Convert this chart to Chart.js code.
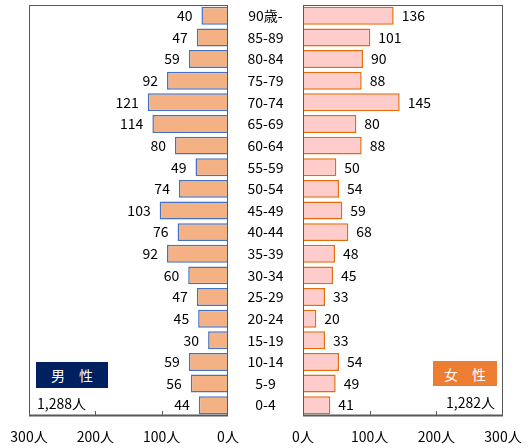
<!DOCTYPE html>
<html><head><meta charset="utf-8">
<script src="https://cdn.jsdelivr.net/npm/chart.js@4.4.0/dist/chart.umd.min.js"></script>
<style>
html,body{margin:0;padding:0;background:#fff;width:528px;height:448px;overflow:hidden;font-family:"Noto Sans CJK JP",sans-serif;}
canvas{position:absolute;top:0;}
#cL{left:0;}
#cR{left:230px;}
.box{position:absolute;color:#fff;font-size:14px;display:flex;align-items:center;justify-content:center;letter-spacing:0;}
.tot{position:absolute;font-size:14px;color:#000;line-height:16px;}
</style></head><body>
<canvas id="cL" width="264" height="448" style="width:264px;height:448px"></canvas>
<canvas id="cR" width="298" height="448" style="width:298px;height:448px"></canvas>
<div class="box" style="left:36px;top:362px;width:72px;height:26px;background:#002060;">男　性</div>
<div class="tot" style="left:37px;top:395px;">1,288人</div>
<div class="box" style="left:433px;top:361px;width:64px;height:25px;background:#ED7D31;">女　性</div>
<div class="tot" style="right:33px;top:394px;text-align:right;">1,282人</div>
<script>
const ageLabels = ["90歳-","85-89","80-84","75-79","70-74","65-69","60-64","55-59","50-54","45-49","40-44","35-39","30-34","25-29","20-24","15-19","10-14","5-9","0-4"];
const maleValues = [40,47,59,92,121,114,80,49,74,103,76,92,60,47,45,30,59,56,44];
const femaleValues = [136,101,90,88,145,80,88,50,54,59,68,48,45,33,20,33,54,49,41];
const axisTicks = [0,100,200,300];
const unit = "人";

const FONT = '"Noto Sans CJK JP", sans-serif';

function frameAndTicks(side){
  return {
    id:'frame'+side,
    afterDatasetsDraw(chart){
      const {ctx, chartArea:a, scales:{x}} = chart;
      ctx.save();
      ctx.strokeStyle = '#595959';
      ctx.lineWidth = 1;
      ctx.strokeRect(a.left+0.5, a.top+0.5, a.right-a.left-1, a.bottom-a.top-1);
      ctx.beginPath();
      ctx.moveTo(a.left, a.bottom-0.5); ctx.lineTo(a.right, a.bottom-0.5);
      ctx.lineWidth = 2;
      ctx.stroke();
      ctx.lineWidth = 1;
      [100,200].forEach(v=>{
        const px = Math.round(x.getPixelForValue(v))+0.5;
        ctx.beginPath(); ctx.moveTo(px,a.bottom); ctx.lineTo(px,a.bottom-5); ctx.stroke();
      });
      ctx.fillStyle = '#000';
      ctx.font = '14px '+FONT;
      ctx.textBaseline = 'middle';
      const meta = chart.getDatasetMeta(0);
      const vals = chart.data.datasets[0].data;
      meta.data.forEach((bar,i)=>{
        if(side==='L'){ ctx.textAlign='right'; ctx.fillText(String(vals[i]), bar.x-9, bar.y); }
        else { ctx.textAlign='left'; ctx.fillText(String(vals[i]), bar.x+8, bar.y); }
      });
      if(side==='R'){
        const y = chart.scales.y;
        ctx.textAlign='center';
        ageLabels.forEach((lab,i)=>{
          ctx.fillText(lab, 265.5-230, y.getPixelForValue(i));
        });
      }
      ctx.restore();
    }
  };
}

function makeChart(id, values, side){
  return new Chart(document.getElementById(id), {
    type:'bar',
    data:{labels:ageLabels, datasets:[{
      data:values,
      backgroundColor: side==='L' ? '#F4B183' : '#FFCCCC',
      borderColor: side==='L' ? '#4472C4' : '#E46C0A',
      borderWidth: 1.5,
      borderSkipped: 'start',
      barPercentage: 0.83,
      categoryPercentage: 1
    }]},
    options:{
      indexAxis:'y',
      responsive:false,
      animation:false,
      layout:{padding: side==='L' ? {left:29,right:36,top:5,bottom:0} : {left:73,right:25,top:5,bottom:0}},
      plugins:{legend:{display:false},tooltip:{enabled:false}},
      scales:{
        x:{
          type:'linear', min:axisTicks[0], max:axisTicks[axisTicks.length-1],
          reverse: side==='L',
          grid:{display:false},
          border:{display:false},
          afterBuildTicks(s){ s.ticks = axisTicks.map(v=>({value:v})); },
          afterFit(s){ s.height = 32; },
          ticks:{padding:4, color:'#000', font:{family:FONT,size:14}, maxRotation:0, callback:(v)=>v+unit}
        },
        y:{display:false, grid:{display:false}}
      }
    },
    plugins:[frameAndTicks(side)]
  });
}
makeChart('cL', maleValues, 'L');
makeChart('cR', femaleValues, 'R');
</script>
</body></html>
